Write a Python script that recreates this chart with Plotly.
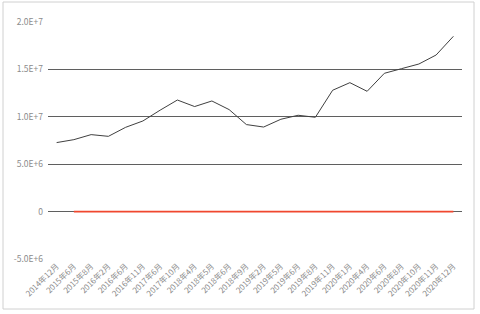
import plotly.graph_objects as go

categories = ["2014年12月", "2015年6月", "2015年8月", "2016年2月", "2016年6月", "2016年11月",
              "2017年6月", "2017年10月", "2018年4月", "2018年5月", "2018年6月", "2018年9月",
              "2019年2月", "2019年5月", "2019年6月", "2019年8月", "2019年11月", "2020年1月",
              "2020年4月", "2020年6月", "2020年8月", "2020年10月", "2020年11月", "2020年12月"]

series_main = [7.28e6, 7.59e6, 8.12e6, 7.94e6, 8.89e6, 9.56e6, 10.7e6, 11.77e6, 11.08e6, 11.67e6,
               10.76e6, 9.18e6, 8.92e6, 9.74e6, 10.16e6, 9.95e6, 12.8e6, 13.6e6, 12.69e6, 14.59e6,
               15.08e6, 15.57e6, 16.52e6, 18.49e6]

series_red = [None] + [0] * 23

y_tickvals = [-5e6, 0, 5e6, 1e7, 1.5e7, 2e7]
y_ticktext = ["-5.0E+6", "0", "5.0E+6", "1.0E+7", "1.5E+7", "2.0E+7"]

font_family = "Noto Sans CJK SC, Noto Sans, sans-serif"

fig = go.Figure()
fig.add_trace(go.Scatter(x=categories, y=series_main, mode="lines",
                         line=dict(color="#404040", width=1), showlegend=False))
fig.add_trace(go.Scatter(x=categories, y=series_red, mode="lines",
                         line=dict(color="#F0472E", width=1.6), showlegend=False))

fig.update_layout(
    width=480, height=314,
    margin=dict(l=48, r=18, t=22, b=55),
    paper_bgcolor="white", plot_bgcolor="white",
    font=dict(family=font_family, size=8, color="#808080"),
    xaxis=dict(type="category", range=[-0.5, 23.5], showgrid=False, zeroline=False,
               showline=False, tickangle=-45, ticks="", tickfont=dict(size=8, color="#8c8c8c")),
    yaxis=dict(range=[-5e6, 2e7], tickvals=y_tickvals, ticktext=y_ticktext,
               showgrid=True, gridcolor="#5f5f5f", gridwidth=1.3, zeroline=False,
               showline=False, ticks="", ticklabelstandoff=4,
               tickfont=dict(size=8.5, color="#8c8c8c")),
    shapes=[dict(type="rect", xref="paper", yref="paper",
                 x0=-45 / 414, x1=1 + 12 / 414, y0=-50 / 237, y1=1 + 20 / 237,
                 line=dict(color="#d0d0d0", width=1), layer="below")],
)

fig.write_html("out.html")
